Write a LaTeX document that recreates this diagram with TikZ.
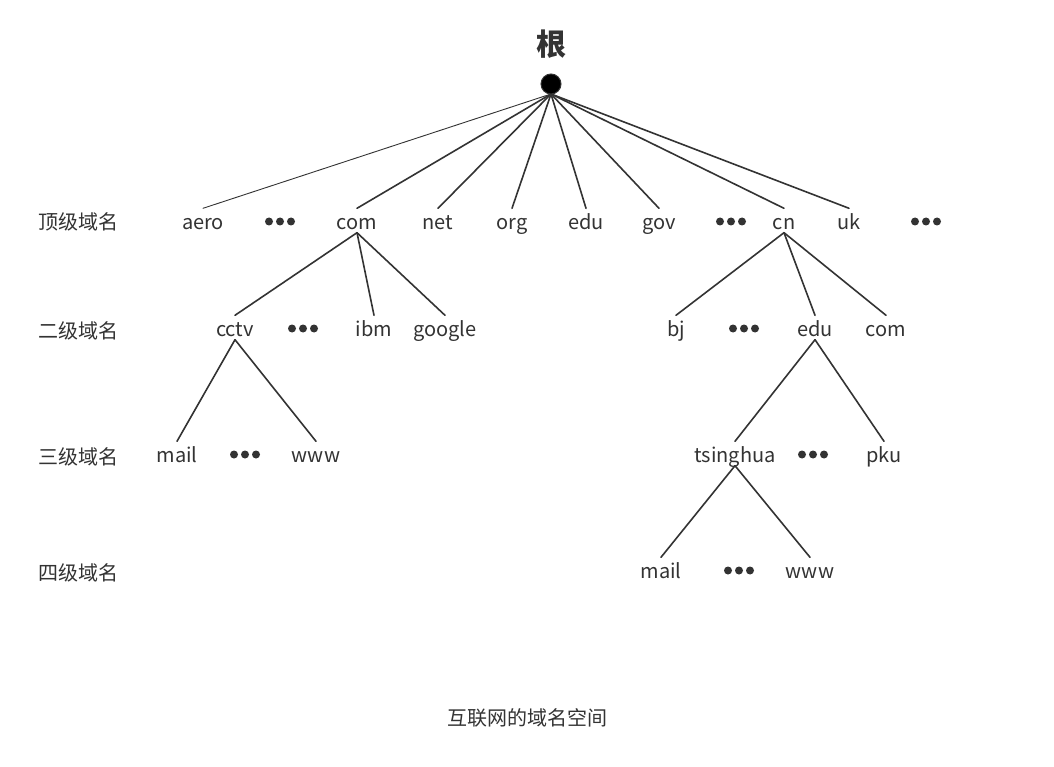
\documentclass[tikz,border=0pt]{standalone}
\usepackage{fontspec}
\setmainfont{Noto Sans CJK SC}
\definecolor{ink}{HTML}{333333}
\tikzset{
  lbl/.style={inner sep=0pt, text=ink, font=\fontsize{20}{24}\selectfont, text height=21pt, text depth=3pt, anchor=base},
  edge/.style={draw=ink, line width=1.6pt, line cap=round},
  thinedge/.style={draw=ink, line width=0.9pt, line cap=round},
  bdot/.style={circle, fill=ink, inner sep=0pt, minimum size=8pt},
}
\newcommand{\threedots}[3]{%
  \node[bdot] (#1a) at (#2-11,#3) {};
  \node[bdot] (#1b) at (#2,#3) {};
  \node[bdot] (#1c) at (#2+11,#3) {};}
\begin{document}
\begin{tikzpicture}[x=1pt,y=-1pt]
\useasboundingbox[fill=white] (0,0) rectangle (1054,767);
% root
\node[inner sep=0pt, text=ink, anchor=base, font=\fontsize{30}{34}\selectfont\bfseries] (title) at (551,56) {根};
\coordinate (r) at (551,94);
% top level
\node[lbl] (aero) at (203,229.5) {aero};
\node[lbl] (com) at (357,229.5) {com};
\node[lbl] (net) at (438,229.5) {net};
\node[lbl] (org) at (512,229.5) {org};
\node[lbl] (edu) at (586,229.5) {edu};
\node[lbl] (gov) at (659,229.5) {gov};
\node[lbl] (cn) at (784,229.5) {cn};
\node[lbl] (uk) at (849,229.5) {uk};
\threedots{d1}{280}{221.5}
\threedots{d2}{731}{221.5}
\threedots{d3}{926}{221.5}
% second level
\node[lbl] (cctv) at (235,336.5) {cctv};
\node[lbl] (ibm) at (374,336.5) {ibm};
\node[lbl] (google) at (445,336.5) {google};
\node[lbl] (bj) at (676,336.5) {bj};
\node[lbl] (edu2) at (815,336.5) {edu};
\node[lbl] (com2) at (886,336.5) {com};
\threedots{d4}{303}{328.5}
\threedots{d5}{744}{328.5}
% third level
\node[lbl] (mail1) at (177,462.5) {mail};
\node[lbl] (www1) at (316,462.5) {www};
\node[lbl] (tsinghua) at (735,462.5) {tsinghua};
\node[lbl] (pku) at (884,462.5) {pku};
\threedots{d6}{245}{454.5}
\threedots{d7}{813}{454.5}
% fourth level
\node[lbl] (mail2) at (661,578.5) {mail};
\node[lbl] (www2) at (810,578.5) {www};
\threedots{d8}{739}{570.5}
% level labels
\node[lbl] (l1) at (78,230) {顶级域名};
\node[lbl] (l2) at (78,338) {二级域名};
\node[lbl] (l3) at (78,464) {三级域名};
\node[lbl] (l4) at (78,580) {四级域名};
\node[lbl] (cap) at (527,725) {互联网的域名空间};
% edges from root
\draw[thinedge] (r) -- (aero.north);
\foreach \n in {com,net,org,edu,gov,cn,uk}
  \draw[edge] (r) -- (\n.north);
\node[circle, fill=black, draw=ink, line width=1pt, inner sep=0pt, minimum size=20pt] (root) at (551,84) {};
% lower edges
\foreach \a/\b in {com/cctv, com/ibm, com/google, cn/bj, cn/edu2, cn/com2,
                   cctv/mail1, cctv/www1, edu2/tsinghua, edu2/pku,
                   tsinghua/mail2, tsinghua/www2}
  \draw[edge] (\a.south) -- (\b.north);
\end{tikzpicture}
\end{document}
